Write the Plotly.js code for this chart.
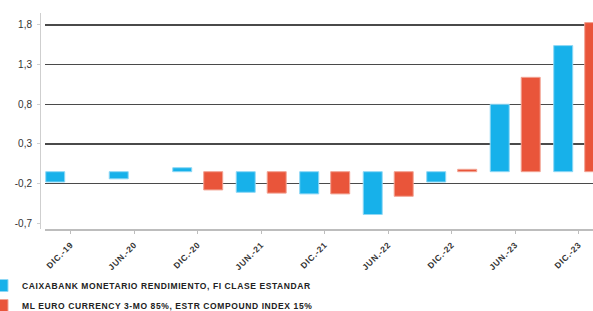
<!DOCTYPE html>
<html>
<head>
<meta charset="utf-8">
<script src="https://cdn.plot.ly/plotly-3.0.1.min.js"></script>
<style>
html,body{margin:0;padding:0;background:#fff;}
#chart{width:593px;height:311px;}
.legendtext{letter-spacing:0.6px;}
.xtick text{letter-spacing:0.6px;}
</style>
</head>
<body>
<div id="chart"></div>
<script>
// Categories (x axis tick labels)
const categories = ['DIC.-19','JUN.-20','DIC.-20','JUN.-21','DIC.-21','JUN.-22','DIC.-22','JUN.-23','DIC.-23'];
// Series values (%)
const fundValues  = [-0.13, -0.09, 0.05, -0.26, -0.28, -0.54, -0.13, 0.85, 1.59];
const benchValues = [null, null, -0.23, -0.27, -0.28, -0.31, 0.03, 1.19, 1.88];
// Series names
const fundName  = 'CAIXABANK MONETARIO RENDIMIENTO, FI CLASE ESTANDAR';
const benchName = 'ML EURO CURRENCY 3-MO 85%, ESTR COMPOUND INDEX 15%';
// Y axis ticks
const yTickVals  = [-0.65, -0.15, 0.35, 0.85, 1.35, 1.85];
const yTickText  = ['-0,7', '-0,2', '0,3', '0,8', '1,3', '1,8'];
const yGridVals  = [-0.15, 0.35, 0.85, 1.35, 1.85];

const W = 593, H = 311;
const yRange = [-0.7226, 2.001];

const traces = [
  {
    type: 'bar', name: fundName, x: categories, y: fundValues,
    marker: {color: '#17b1ea', line: {color: '#8fd8f5', width: 1}},
    legendgroup: 'a'
  },
  {
    type: 'bar', name: benchName, x: categories, y: benchValues,
    marker: {color: '#e9553a', line: {color: '#f2a393', width: 1}},
    legendgroup: 'b'
  },
  {
    type: 'scatter', mode: 'markers', x: categories, y: categories.map(() => null),
    yaxis: 'y2', showlegend: false, hoverinfo: 'skip'
  }
];

const layout = {
  width: W, height: H,
  margin: {l: 0, r: 0, t: 13, b: H - 229, autoexpand: false},
  paper_bgcolor: '#fff', plot_bgcolor: '#fff',
  barmode: 'group', bargap: 0.024, bargroupgap: 0.387,
  showlegend: true,
  legend: {
    x: -18 / W, xanchor: 'left', y: -42 / 216, yanchor: 'top',
    orientation: 'v', tracegroupgap: 1,
    font: {family: 'Liberation Sans, Arial, sans-serif', size: 8.5, color: '#222', weight: 'bold'},
    bgcolor: 'rgba(0,0,0,0)'
  },
  xaxis: {
    type: 'category', domain: [45 / W, 1], range: [-0.405, 8.225],
    showline: true, linecolor: '#bdbdbd', linewidth: 1.5,
    ticks: 'outside', ticklen: 3, tickcolor: '#bdbdbd', tickwidth: 1,
    tickangle: -45, showgrid: false, zeroline: false, ticklabelstandoff: 3,
    tickfont: {family: 'Liberation Sans, Arial, sans-serif', size: 8.5, color: '#333', weight: 'bold'},
    automargin: false
  },
  yaxis: {
    range: yRange, tickmode: 'array', tickvals: yGridVals,
    showticklabels: false, ticks: '', showgrid: true, gridcolor: '#4a4a4a', gridwidth: 1.2,
    zeroline: false, showline: false, automargin: false
  },
  yaxis2: {
    overlaying: 'y', anchor: 'free', position: 40 / W, side: 'left',
    range: yRange, tickmode: 'array', tickvals: yTickVals, ticktext: yTickText,
    showgrid: false, zeroline: false, showline: true, linecolor: '#cfcfcf', linewidth: 1,
    ticks: 'outside', ticklen: 3, tickcolor: '#cfcfcf', ticklabelstandoff: 3,
    tickfont: {family: 'Liberation Sans, Arial, sans-serif', size: 10, color: '#333'},
    automargin: false
  },
  hovermode: false
};

Plotly.newPlot('chart', traces, layout, {staticPlot: true, displayModeBar: false});
</script>
</body>
</html>
